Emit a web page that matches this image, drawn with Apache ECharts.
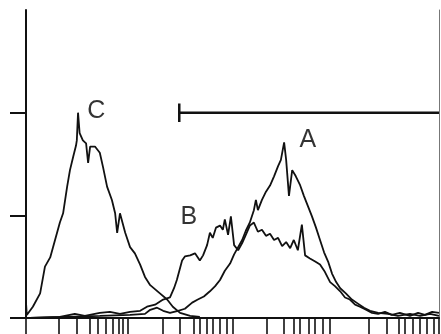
<!DOCTYPE html>
<html>
<head>
<meta charset="utf-8">
<script src="https://cdn.jsdelivr.net/npm/echarts@6/dist/echarts.min.js"></script>
<style>
  html, body { margin: 0; padding: 0; background: #fff; }
  #chart { width: 441px; height: 334px; }
</style>
</head>
<body>
<div id="chart"></div>
<script>
// Fluorescence histograms, channel (0-1024) vs. event count.
const histC = [
  [0, 15], [2, 3], [17, 11], [35, 24], [47, 50], [60, 59], [72, 76], [84, 93], [92, 102],
  [102, 128], [109, 144], [117, 157], [124, 168], [126, 173], [129, 200], [133, 180],
  [141, 173], [149, 170], [154, 151], [159, 167], [171, 167], [183, 161], [191, 147],
  [201, 128], [213, 115], [221, 102], [226, 83], [233, 102], [246, 83], [258, 69],
  [270, 63], [283, 52], [295, 40], [308, 32], [332, 24], [350, 18], [364, 11],
  [382, 5], [407, 2], [431, 1]
];

const histB = [
  [10, 0], [84, 1], [121, 4], [146, 2], [183, 5], [208, 6], [233, 4], [258, 6], [283, 7],
  [300, 11], [320, 13], [340, 18], [357, 20], [367, 29], [374, 37], [387, 56], [394, 60],
  [407, 61], [419, 63], [431, 56], [439, 61], [449, 71], [456, 83], [463, 78], [471, 88],
  [481, 90], [488, 86], [493, 96], [501, 81], [508, 99], [516, 71], [526, 66], [536, 73],
  [545, 81], [555, 90], [565, 93], [575, 84], [585, 86], [595, 80], [605, 82], [615, 76],
  [625, 78], [635, 70], [645, 74], [655, 68], [664, 76], [674, 66], [684, 91], [692, 61],
  [704, 58], [717, 55], [729, 52], [741, 45], [754, 35], [766, 31], [779, 26], [791, 20],
  [803, 18], [816, 13], [828, 11], [843, 8], [858, 5], [873, 4], [890, 6], [907, 3],
  [927, 5], [952, 2], [972, 5], [989, 3], [1007, 6], [1024, 5]
];

const histA = [
  [10, 0], [183, 2], [258, 3], [295, 4], [308, 8], [325, 10], [340, 7], [357, 5], [377, 7],
  [394, 9], [412, 15], [426, 18], [441, 21], [456, 26], [469, 31], [481, 37], [493, 46],
  [506, 53], [516, 62], [526, 69], [536, 76], [545, 85], [555, 93], [565, 105], [570, 115],
  [575, 105], [585, 115], [595, 123], [605, 129], [615, 138], [625, 148], [632, 154],
  [640, 171], [645, 154], [652, 119], [660, 144], [669, 138], [679, 130], [689, 119],
  [699, 109], [709, 99], [719, 88], [729, 76], [739, 64], [749, 55], [759, 43], [769, 35],
  [779, 29], [793, 24], [808, 18], [823, 14], [838, 10], [853, 7], [873, 5], [898, 4],
  [922, 2], [952, 4], [977, 2], [1002, 4], [1024, 2]
];

// Gate marker: from channel 380 to the top of the scale, at count 200
const gateRange = [380, 1024];
const gateLevel = 200;

// Tick marks along the channel axis (decade marks and their subdivisions)
const xTickChannels = [
  0, 80, 126, 157, 179, 198, 215, 229, 241, 252,
  340, 382, 417, 431, 448, 464, 481, 498, 512,
  597, 638, 663, 679, 700, 717, 737, 754,
  849, 894, 923, 940, 960, 977, 993, 1010, 1024
];
const yTickCounts = [0, 100, 200];

const curveLabels = [
  { name: 'C', at: [174, 202] },
  { name: 'B', at: [404, 98] },
  { name: 'A', at: [699, 173] }
];

const ink = '#111';

function histSeries(data) {
  return {
    type: 'line',
    data: data,
    symbol: 'none',
    smooth: false,
    lineStyle: { color: ink, width: 1.8 },
    silent: true,
    z: 3
  };
}

const chart = echarts.init(document.getElementById('chart'), null, { renderer: 'canvas' });

chart.setOption({
  animation: false,
  backgroundColor: '#fff',
  grid: { left: 26, top: 10, right: 2, bottom: 16, containLabel: false },
  xAxis: {
    type: 'value',
    min: 0,
    max: 1024,
    axisLine: { show: true, onZero: false, lineStyle: { color: ink, width: 2 } },
    axisTick: {
      show: true,
      inside: false,
      length: 16,
      customValues: xTickChannels,
      lineStyle: { color: ink, width: 1.6 }
    },
    axisLabel: { show: false },
    splitLine: { show: false }
  },
  yAxis: [
    {
      type: 'value',
      min: 0,
      max: 300,
      axisLine: { show: true, onZero: false, lineStyle: { color: ink, width: 2 } },
      axisTick: {
        show: true,
        inside: false,
        length: 16,
        customValues: yTickCounts,
        lineStyle: { color: ink, width: 2 }
      },
      axisLabel: { show: false },
      splitLine: { show: false }
    },
    {
      type: 'value',
      position: 'right',
      min: 0,
      max: 300,
      axisLine: { show: true, onZero: false, lineStyle: { color: '#777', width: 1 } },
      axisTick: { show: false },
      axisLabel: { show: false },
      splitLine: { show: false }
    }
  ],
  series: [
    histSeries(histC),
    histSeries(histB),
    histSeries(histA),
    {
      type: 'line',
      data: [[gateRange[0], gateLevel], [gateRange[1], gateLevel]],
      symbol: 'none',
      lineStyle: { color: ink, width: 2.5 },
      silent: true,
      z: 4
    },
    {
      type: 'line',
      data: [[gateRange[0], gateLevel - 9], [gateRange[0], gateLevel + 9]],
      symbol: 'none',
      lineStyle: { color: ink, width: 2.5 },
      silent: true,
      z: 4
    },
    {
      type: 'scatter',
      symbolSize: 0,
      data: curveLabels.map(l => ({ value: l.at, name: l.name })),
      label: {
        show: true,
        position: 'inside',
        formatter: p => p.name,
        fontFamily: 'Liberation Sans',
        fontSize: 25,
        color: '#000'
      },
      silent: true,
      z: 5
    }
  ]
});
</script>
</body>
</html>
